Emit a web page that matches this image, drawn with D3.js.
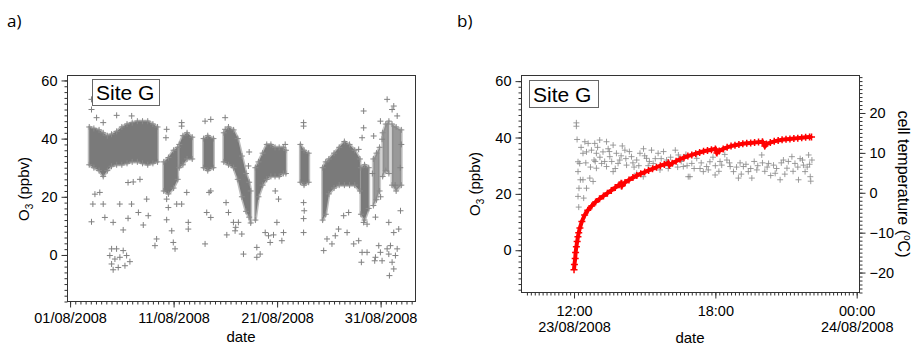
<!DOCTYPE html>
<html>
<head>
<meta charset="utf-8">
<script src="https://cdn.jsdelivr.net/npm/d3@7"></script>
<style>
  body { margin: 0; background: #fff; }
  svg text { font-family: "Liberation Sans", Arial, sans-serif; fill: #000; }
</style>
</head>
<body>
<svg id="chart" width="914" height="345"></svg>
<script>
// ---------- panel a) : O3 at Site G, August 2008 (x = day of August) ----------
// dense clouds of crosses, read as [day, low, high] envelopes
var coreA1 = [[2.85,31,44],[3.3,30,43.5],[3.8,29,43],[4.2,27,42],[4.6,29,41],[5.0,30.5,41.5],[5.5,31,42.5],
              [6.0,31,44],[6.5,31.5,45],[7.0,32,45.5],[7.5,32,46],[8.0,31.5,46],[8.5,31,46],[9.0,31.5,45],[9.45,32,44]];
var coreA2 = [[10.05,22,32],[10.5,21,33.5],[11.0,23,36],[11.4,26,37]];
var coreA3 = [[11.55,30,38],[11.9,31,41],[12.3,33,42],[12.8,33,40.5]];
var coreA4 = [[13.9,30,40],[14.3,29,41],[14.85,30,40]];
var coreA5 = [[15.85,32,42],[16.3,31,44],[16.8,30,43],[17.2,26,40],[17.6,20,34],[18.0,15,28],[18.3,13,25],[18.45,11,22]];
var coreA6 = [[18.9,12,30],[19.2,20,32],[19.6,24,35],[20.0,26,38],[20.4,27,38],[20.8,27,37],[21.2,27,37],[21.6,28,37],[21.85,28,36]];
var coreA7 = [[23.25,25,38],[23.6,24,36],[24.05,25,35]];
var coreA8 = [[25.4,12,30],[25.7,14,32],[26.0,21,33],[26.5,23,35],[27.0,24,37],[27.5,24,39],[28.0,24,38],[28.5,24,36],[29.0,22,33]];
var coreA9 = [[29.1,14,30],[29.45,12,31],[29.85,16,30]];
// thinner clouds at the end of the month
var sparseA1 = [[30.3,17,33],[30.6,19,35],[30.9,22,37]];
var sparseA2 = [[31.2,27,42],[31.5,29,45],[31.8,28,46]];
var sparseA3 = [[32.1,24,45],[32.5,22,44],[33.0,24,43]];

// single crosses outside the clouds [day, ppbv]
var outliersA = [
  [3.07,53.5],[3.07,50],[3.07,11.4],[3.56,47.2],[4.2,45.5],[5.5,48],[6.95,47.8],[3.4,20.9],[3.87,21.5],[4.2,17.5],
  [3.2,17.5],[5.8,17.5],[4.36,12.9],[5.16,11.2],[6.13,8.6],[6.6,12.6],[6.94,17.5],[7.6,14.6],[8.07,10.3],[8.4,19.2],
  [6.6,24.9],[7.1,25.1],[7.75,26],[9.36,5.5],[9.2,3.2],[8.55,13.5],
  [5.01,2.1],[5.49,2.1],[6.13,1.5],[4.84,-0.2],[5.33,-1.4],[5.81,-0.8],[6.46,-0.2],[6.78,-2.3],[5.01,-3.1],[5.65,-4.3],[6.3,-3.7],[5.16,-5.1],
  [10.33,43.2],[10.26,40.3],[11.78,45.5],[11.78,44.3],[10.33,19.2],[10.49,16.3],[10.33,12.1],[10.82,8.3],[10.97,4.3],[11.14,2.1],
  [11.3,17.5],[12.27,21.5],[11.78,17.5],[12.42,11.2],[12.42,8.9],
  [14.04,46],[14.59,46.6],[14.2,14.6],[14.59,12.9],[14.04,3.8],[14.43,21.5],[14.59,22],
  [15.98,47.2],[15.98,43.2],[16.07,18],[16.3,14.6],[16.14,6.9],[16.78,11.2],[16.94,8.3],[17.0,9.5],
  [17.26,11.2],[17.59,7.2],[17.75,0.3],[18.3,35.4],[18.23,30.6],[19.04,2.6],[19.04,-0.8],[19.36,0.3],[19.85,7.7],[20.17,6.6],
  [20.33,4.3],[20.65,6.9],[20.98,11.2],[21.46,4.9],[21.62,7.7],[21.14,19.2],[20.82,22],[21.78,38],
  [23.56,45.5],[23.56,44.3],[23.56,18],[23.62,15.2],[23.56,12.5],[23.56,7.7],
  [25.5,1.5],[25.82,5.5],[26.3,3.8],[26.62,6.6],[26.94,8.9],[27.43,13.5],[27.91,14.6],[27.76,7.7],[28.4,3.8],[28.88,4.9],
  [29.21,0.9],[29.69,0.9],[29.14,-2.5],[28.88,36.3],[29.36,49.5],[29.36,43.7],[29.21,40.3],[29.36,11.2],[29.69,10.6],
  [30.33,40.9],[30.82,3.2],[30.98,0.9],[30.5,-0.8],[30.43,-2],[31.14,-2],[31.63,2.1],[31.79,0.3],[31.95,3.2],[32.11,-2.5],
  [32.27,-4.8],[31.85,-7.1],[32.43,-0.2],[32.6,2.1],[32.75,8.9],[32.92,15.2],[31.63,53.5],[32.27,51.2],[32.11,50],[32.6,47.8],
  [30.98,46],[31.14,39.8],[31.79,11.2],[32.27,7.7],[30.5,13],[31.0,20],[32.9,30],[33.0,38],[30.2,28],[32.4,24]
];
var tickDaysA = [1, 11, 21, 31];
var tickLabelsA = ["01/08/2008", "11/08/2008", "21/08/2008", "31/08/2008"];
var tickPpbv = [0, 20, 40, 60];

// ---------- panel b) : 23/08/2008, x = hour of day ----------
// O3 (grey, left axis) [hour, ppbv]
var o3B = [
  [12.1,45.2],[12.1,44.0],[12.13,39.3],[12.17,31.4],[12.24,30.8],[12.17,27.9],[12.27,25],[12.21,22],[12.17,19.1],[12.2,15.3],
  [12.41,18.5],[12.53,22],[12.38,25],[12.67,25.6],[12.81,24.4],[12.46,38.5],[12.6,37.9],[12.88,37.9],[13.09,39.1],[13.38,38.5],
  [13.66,37.3],[12.38,34.4],[12.53,34.9],[12.74,35.5],[12.95,34.4],[13.23,34.9],[13.17,30.8],[13.52,33.2],[13.8,34.4],[13.94,32],
  [14.16,35.5],[14.23,30.2],[14.44,33.2],[14.66,32],[14.8,34.4],[15.08,32.6],[15.29,35.5],[15.36,30.8],[15.57,34.4],[15.65,28.5],
  [15.93,32],[16.21,30.8],[16.43,33.8],[16.64,29.7],[16.85,26.1],[17.0,30.8],[14.94,26.1],[14.66,27.3],[12.95,29.1],[13.38,29.7],
  [13.66,27.9],[13.87,30.8],[12.3,36.5],[12.85,32],[13.0,36.5],[13.45,36],[13.6,31.5],[14.05,37],[14.35,35],[14.55,29.5],
  [14.95,36],[15.15,30],[15.45,32.5],[15.8,35],[16.0,29],[16.3,35.5],[16.55,31.5],[16.75,34],
  [17.21,32.6],[17.49,27.9],[17.77,31.4],[17.99,26.7],[18.27,30.2],[18.49,32],[18.77,27.9],[18.98,25.6],[19.19,29.7],[19.55,25.6],
  [19.76,28.5],[19.97,33.8],[20.26,30.8],[20.54,27.3],[20.75,25],[21.04,29.1],[21.25,33.2],[21.53,25],[21.74,30.2],[21.96,33.8],
  [22.03,26.1],[22.1,32],[16.92,26.1],[17.63,29.7],[18.63,29.7],[19.4,27.9],[20.47,30.2],[20.89,32],[21.38,30.8],[21.81,27.9],
  [17.35,29],[17.9,33],[18.15,28],[18.4,34],[19.05,31],[19.65,31.5],[20.1,28],[20.35,26.5],[20.95,27],[21.6,32.5],[21.9,29.5],[22.05,24.5],
  [12.5,31],[12.7,29.5],[12.9,31.5],[13.1,33],[13.3,31.5],[13.5,35],[13.75,29],[14.0,33.5],[14.2,32.5],[14.5,31],
  [14.75,30],[15.0,33.5],[15.2,31.5],[15.5,29.5],[15.7,32.5],[15.9,30.5],[16.1,33],[16.4,29.5],[16.6,32.5],[16.8,30],
  [17.1,29],[17.4,31],[17.7,28.5],[18.0,30],[18.2,31.5],[18.6,31],[18.9,29.5],[19.1,27],[19.3,30.5],[19.5,29],
  [19.8,30],[20.0,31],[20.2,29.5],[20.6,29],[20.8,31],[21.1,31.5],[21.3,28],[21.5,29.5],[21.7,32],[22.0,30.5]
];
// cell temperature (red, right axis) ["hh:mm", degC]
var cellTemp = [
  ["12:00",-19.3],["12:01",-18.0],["12:03",-16.5],["12:04",-15.0],["12:06",-13.5],["12:08",-12.2],["12:10",-11.0],["12:12",-10.0],
  ["12:15",-8.8],["12:20",-7.2],["12:27",-5.6],["12:35",-4.4],
  ["12:45",-3.3],["12:55",-2.3],["13:05",-1.5],["13:15",-0.8],["13:25",-0.1],["13:35",0.6],["13:45",1.3],["13:55",2.0],
  ["14:00",2.4],["14:02",1.7],["14:10",2.6],["14:20",3.2],["14:30",3.8],["14:40",4.3],["14:50",4.8],["15:00",5.2],
  ["15:10",5.6],["15:20",6.0],["15:30",6.4],["15:40",6.8],["15:50",7.1],["16:00",7.5],["16:03",6.9],["16:10",7.4],
  ["16:20",7.9],["16:30",8.4],["16:40",8.8],["16:50",9.2],["17:00",9.5],["17:10",9.8],["17:20",10.1],["17:30",10.4],
  ["17:40",10.6],["17:50",10.8],["18:00",11.0],["18:04",10.0],["18:10",10.5],["18:20",11.0],["18:30",11.4],["18:40",11.7],
  ["18:50",11.9],["19:00",12.1],["19:10",12.3],["19:20",12.4],["19:30",12.5],["19:40",12.6],["19:50",12.7],["20:00",12.8],
  ["20:06",11.7],["20:10",12.2],["20:20",12.6],["20:30",12.9],["20:40",13.1],["20:50",13.3],["21:00",13.4],["21:10",13.5],
  ["21:20",13.6],["21:30",13.7],["21:40",13.8],["21:50",13.9],["22:00",14.0],["22:05",14.0]
];
var tickHoursB = [12, 18, 24];
var tickLabelsB = [["12:00","23/08/2008"],["18:00",""],["00:00","24/08/2008"]];
var tickTemp = [-20, -10, 0, 10, 20];

function hm(s) { var p = s.split(":"); return +p[0] + p[1] / 60; }
function cross(r) { return "M" + (-r) + ",0H" + r + "M0," + (-r) + "V" + r; }

var svg = d3.select("#chart");
var FONT = 14.5;

function styleAxis(g) {
  g.select(".domain").remove();
  g.attr("font-family", "Liberation Sans, Arial, sans-serif").attr("font-size", FONT);
  g.selectAll(".tick line").attr("stroke", "#333");
}

// ================= panel a =================
var xA = d3.scaleLinear().domain([0.75, 34.37]).range([67.5, 415.5]);
var yA = d3.scaleLinear().domain([-16, 61.7]).range([301.5, 75.5]);

var areaA = d3.area()
  .x(function(d) { return xA(d[0]); })
  .y0(function(d) { return yA(d[1]); })
  .y1(function(d) { return yA(d[2]); });

var cores = [coreA1, coreA2, coreA3, coreA4, coreA5, coreA6, coreA7, coreA8, coreA9];
var sparse = [sparseA1, sparseA2, sparseA3];

function drawClouds(list, colour, opacity) {
  var g = svg.append("g");
  g.selectAll("path.band").data(list).enter().append("path")
    .attr("class", "band")
    .attr("d", areaA)
    .attr("fill", colour)
    .attr("fill-opacity", opacity)
    .attr("stroke", colour)
    .attr("stroke-opacity", 0.5 * opacity)
    .attr("stroke-width", 3)
    .attr("stroke-linejoin", "round");
  // crosses on the read envelope points soften the edges
  var edge = [];
  list.forEach(function(b) {
    b.forEach(function(d) { edge.push([d[0], d[1]]); edge.push([d[0], d[2]]); });
  });
  g.selectAll("path.edge").data(edge).enter().append("path")
    .attr("class", "edge")
    .attr("transform", function(d) { return "translate(" + xA(d[0]) + "," + yA(d[1]) + ")"; })
    .attr("d", cross(3))
    .attr("stroke", "#8a8a8a")
    .attr("stroke-width", 1)
    .attr("fill", "none");
}
drawClouds(cores, "#7a7a7a", 1);
drawClouds(sparse, "#7f7f7f", 0.8);

svg.append("g").selectAll("path").data(outliersA).enter().append("path")
  .attr("transform", function(d) { return "translate(" + xA(d[0]) + "," + yA(d[1]) + ")"; })
  .attr("d", cross(3))
  .attr("stroke", "#808080")
  .attr("stroke-width", 1)
  .attr("fill", "none");

// frame
svg.append("rect")
  .attr("x", 67.5).attr("y", 75.5).attr("width", 348).attr("height", 226)
  .attr("fill", "none").attr("stroke", "#333");

svg.append("g").attr("transform", "translate(0,301.5)")
  .call(d3.axisBottom(xA).tickValues(d3.range(1, 34.3, 0.5)).tickSize(3).tickFormat(""))
  .call(styleAxis);
svg.append("g").attr("transform", "translate(0,301.5)")
  .call(d3.axisBottom(xA).tickValues(tickDaysA).tickSize(6).tickPadding(5)
        .tickFormat(function(d, i) { return tickLabelsA[i]; }))
  .call(styleAxis);
svg.append("g").attr("transform", "translate(67.5,0)")
  .call(d3.axisLeft(yA).tickValues(d3.range(-16, 61, 2)).tickSize(3).tickFormat(""))
  .call(styleAxis);
svg.append("g").attr("transform", "translate(67.5,0)")
  .call(d3.axisLeft(yA).tickValues(tickPpbv).tickSize(6).tickPadding(4))
  .call(styleAxis);

// ================= panel b =================
var xB = d3.scaleLinear().domain([9.77, 24.12]).range([521.5, 859.5]);
var yB = d3.scaleLinear().domain([-15, 62]).range([292.5, 75.5]);
var yT = d3.scaleLinear().domain([-25, 29.4]).range([292.5, 75.5]);

svg.append("g").selectAll("path").data(o3B).enter().append("path")
  .attr("transform", function(d) { return "translate(" + xB(d[0]) + "," + yB(d[1]) + ")"; })
  .attr("d", cross(3))
  .attr("stroke", "#8c8c8c")
  .attr("stroke-opacity", 0.85)
  .attr("stroke-width", 1)
  .attr("fill", "none");

svg.append("path")
  .datum(cellTemp)
  .attr("d", d3.line()
    .x(function(d) { return xB(hm(d[0])); })
    .y(function(d) { return yT(d[1]); }))
  .attr("fill", "none")
  .attr("stroke", "#ff0000")
  .attr("stroke-width", 4);

svg.append("g").selectAll("path").data(cellTemp).enter().append("path")
  .attr("transform", function(d) { return "translate(" + xB(hm(d[0])) + "," + yT(d[1]) + ")"; })
  .attr("d", cross(3.5))
  .attr("stroke", "#ff0000")
  .attr("stroke-width", 1.5)
  .attr("fill", "none");

svg.append("rect")
  .attr("x", 521.5).attr("y", 75.5).attr("width", 338).attr("height", 217)
  .attr("fill", "none").attr("stroke", "#333");

svg.append("g").attr("transform", "translate(0,292.5)")
  .call(d3.axisBottom(xB).tickValues(d3.range(60, 145).map(function(k) { return k / 6; })).tickSize(3).tickFormat(""))
  .call(styleAxis);
var xAxisB = svg.append("g").attr("transform", "translate(0,292.5)")
  .call(d3.axisBottom(xB).tickValues(tickHoursB).tickSize(6).tickPadding(7).tickFormat(""))
  .call(styleAxis);
xAxisB.selectAll(".tick text").each(function(d, i) {
  var t = d3.select(this);
  t.append("tspan").attr("x", 0).text(tickLabelsB[i][0]);
  t.append("tspan").attr("x", 0).attr("dy", "1.1em").text(tickLabelsB[i][1]);
});
svg.append("g").attr("transform", "translate(521.5,0)")
  .call(d3.axisLeft(yB).tickValues(d3.range(-14, 62, 2)).tickSize(3).tickFormat(""))
  .call(styleAxis);
svg.append("g").attr("transform", "translate(521.5,0)")
  .call(d3.axisLeft(yB).tickValues(tickPpbv).tickSize(6).tickPadding(4))
  .call(styleAxis);
svg.append("g").attr("transform", "translate(859.5,0)")
  .call(d3.axisRight(yT).tickValues(d3.range(-25, 30, 1)).tickSize(3).tickFormat(""))
  .call(styleAxis);
svg.append("g").attr("transform", "translate(859.5,0)")
  .call(d3.axisRight(yT).tickValues(tickTemp).tickSize(6).tickPadding(4))
  .call(styleAxis);

// ================= labels =================
function siteBox(x, y, w, h) {
  svg.append("rect").attr("x", x + 0.5).attr("y", y + 0.5).attr("width", w).attr("height", h)
    .attr("fill", "#fff").attr("stroke", "#666");
  svg.append("text").attr("x", x + 4).attr("y", y + h - 5).attr("font-size", 21).text("Site G");
}
siteBox(92, 79, 67, 26);
siteBox(529, 80, 69, 27);

function o3Label(x, y) {
  var t = svg.append("text").attr("transform", "translate(" + x + "," + y + ") rotate(-90)")
    .attr("text-anchor", "middle").attr("font-size", 15);
  t.append("tspan").text("O");
  t.append("tspan").attr("dy", 4).attr("font-size", 10).text("3");
  t.append("tspan").attr("dy", -4).text(" (ppbv)");
}
o3Label(29, 189);
o3Label(480, 184);

var tl = svg.append("text").attr("transform", "translate(898,184) rotate(90)")
  .attr("text-anchor", "middle").attr("font-size", 16);
tl.append("tspan").text("cell temperature (");
tl.append("tspan").attr("dy", -6).attr("font-size", 10).text("o");
tl.append("tspan").attr("dy", 6).text("C)");

svg.append("text").attr("x", 241).attr("y", 342).attr("text-anchor", "middle").attr("font-size", 15).text("date");
svg.append("text").attr("x", 690).attr("y", 343).attr("text-anchor", "middle").attr("font-size", 15).text("date");

svg.append("text").attr("x", 7).attr("y", 27).attr("font-size", 17)
  .style("font-family", "'Open Sans', sans-serif").text("a)");
svg.append("text").attr("x", 457).attr("y", 27).attr("font-size", 17)
  .style("font-family", "'Open Sans', sans-serif").text("b)");
</script>
</body>
</html>
